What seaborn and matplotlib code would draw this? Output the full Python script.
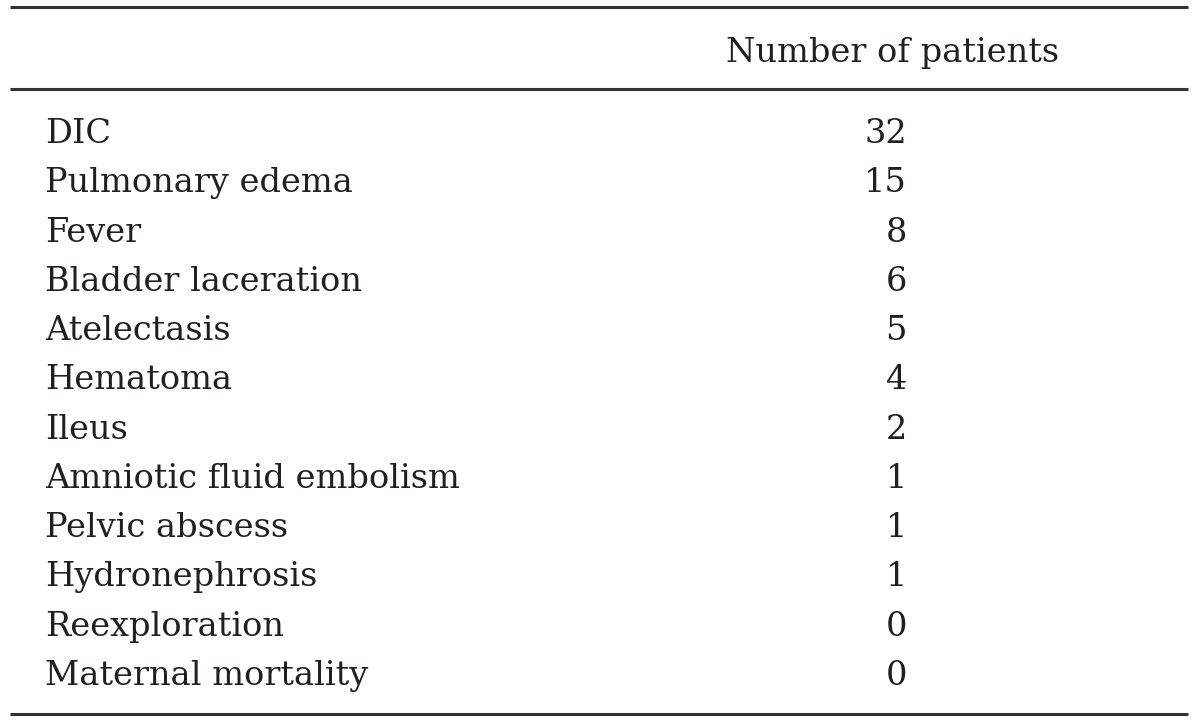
import seaborn as sns
import matplotlib.pyplot as plt

# table contents
complications = ["DIC", "Pulmonary edema", "Fever", "Bladder laceration", "Atelectasis",
                  "Hematoma", "Ileus", "Amniotic fluid embolism", "Pelvic abscess",
                  "Hydronephrosis", "Reexploration", "Maternal mortality"]
patients = [32, 15, 8, 6, 5, 4, 2, 1, 1, 1, 0, 0]
header = "Number of patients"

sns.set_theme(style="white")
plt.rcParams['font.family'] = ['DejaVu Serif']

fig = plt.figure(figsize=(12, 7.22), dpi=100)
ax = fig.add_axes([0, 0, 1, 1])
ax.set_xlim(0, 1200)
ax.set_ylim(722, 0)
ax.axis("off")

fs = 24.2
color = "#231f20"

# horizontal rules
for y in [7, 89, 714]:
    ax.plot([10, 1188], [y, y], color="#333333", lw=2.2, solid_capstyle="butt")

ax.text(893, 62, header, ha="center", va="baseline", fontsize=fs, color=color)

first, step = 143, 49.27
for i, (name, n) in enumerate(zip(complications, patients)):
    y = first + i * step
    ax.text(45, y, name, ha="left", va="baseline", fontsize=fs, color=color)
    ax.text(907, y, str(n), ha="right", va="baseline", fontsize=fs, color=color)

fig.savefig("out.png", dpi=100, facecolor="white")
